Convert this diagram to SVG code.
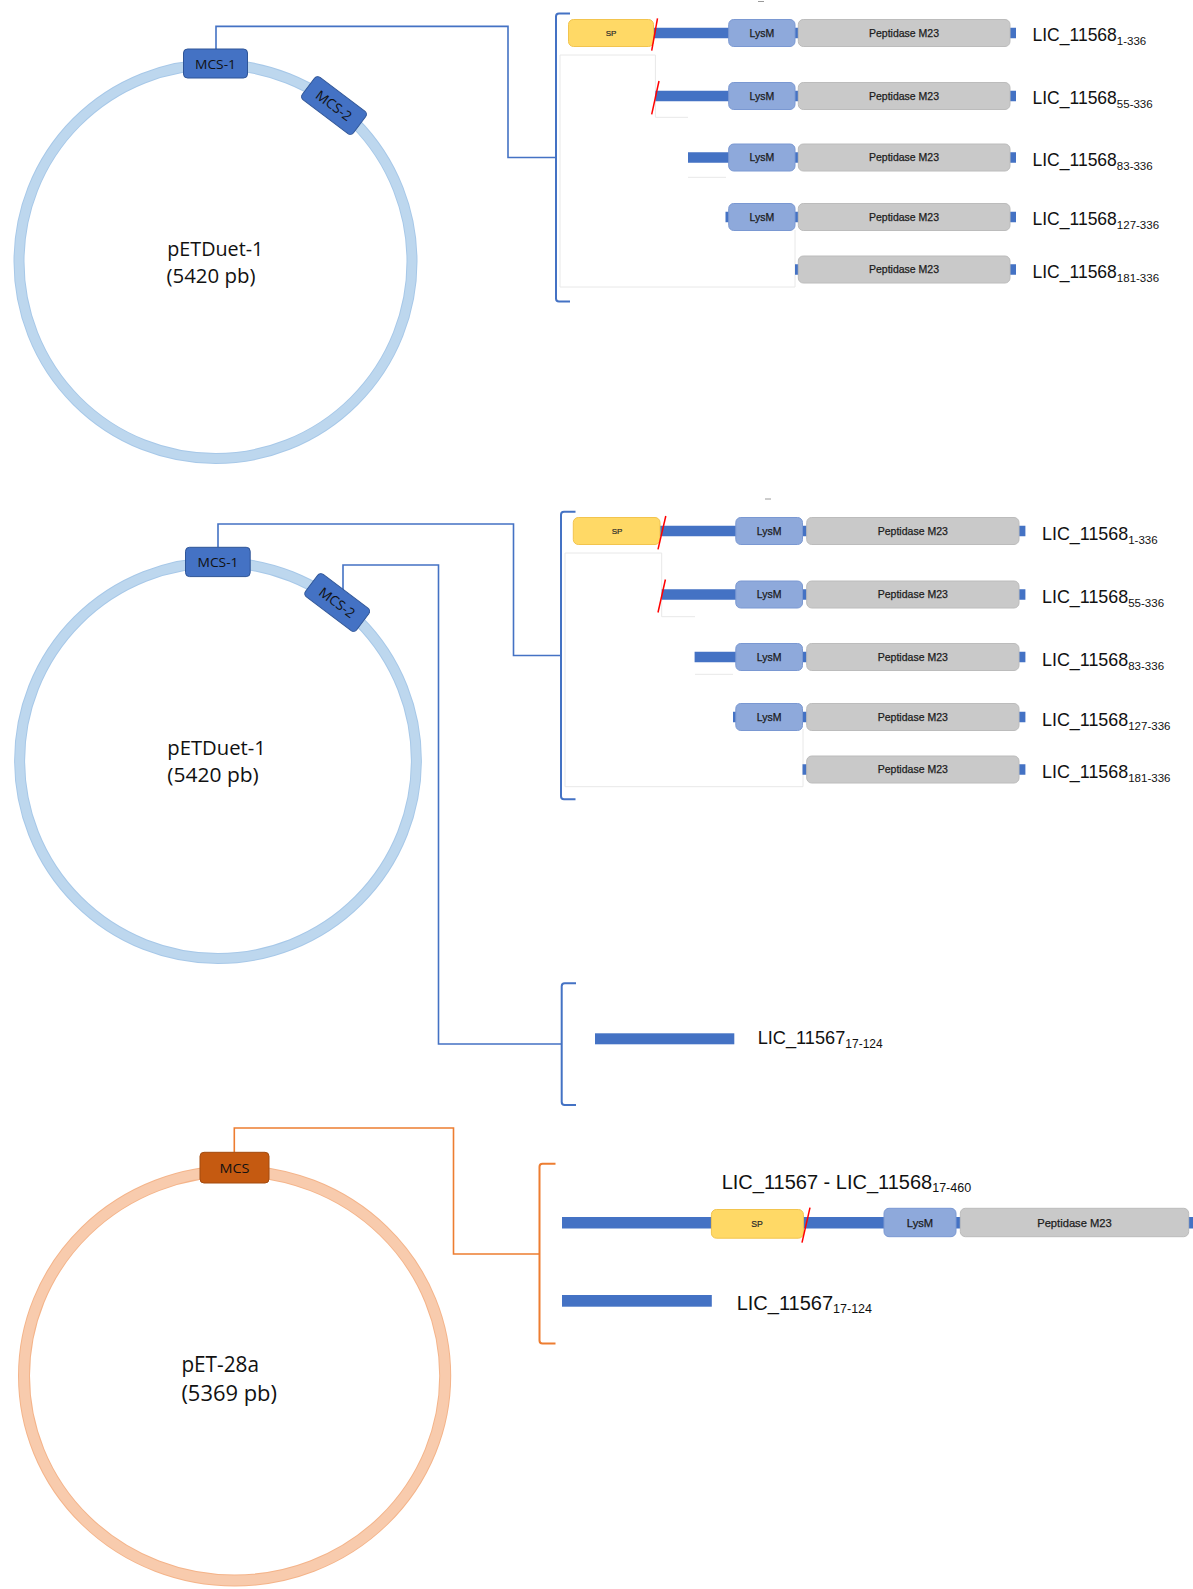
<svg xmlns="http://www.w3.org/2000/svg" width="1193" height="1589" viewBox="0 0 1193 1589">
  <style>
    .ring-b-edge { fill: none; stroke: #A7C8E8; stroke-width: 11; }
    .ring-b { fill: none; stroke: #BDD7EE; stroke-width: 9; }
    .ring-o-edge { fill: none; stroke: #F4B48A; stroke-width: 12; }
    .ring-o { fill: none; stroke: #F8CBAD; stroke-width: 10; }
    .conn { fill: none; stroke: #4472C4; stroke-width: 1.6; }
    .conn-o { fill: none; stroke: #ED7D31; stroke-width: 1.6; }
    .bracket { fill: none; stroke: #4472C4; stroke-width: 2; }
    .bracket-o { fill: none; stroke: #ED7D31; stroke-width: 2; }
    .bar { fill: #4472C4; }
    .sp { fill: #FFD966; stroke: #F2C44E; stroke-width: 1; }
    .lysm { fill: #8EA9DB; stroke: #7A98D2; stroke-width: 1; }
    .pep { fill: #C9C9C9; stroke: #BCBCBC; stroke-width: 1; }
    .cut { stroke: #FF0000; stroke-width: 1.5; }
    .faint { fill: none; stroke: #E8E8E8; stroke-width: 1; }
    .mcs { fill: #4472C4; stroke: #2F5597; stroke-width: 1; }
    .mcs-o { fill: #C55A11; stroke: #A34A0E; stroke-width: 1; }
    .mcs-t { font-family: "Open Sans", "Noto Sans", sans-serif; font-size: 13.5px; fill: #111; text-anchor: middle; }
    .pl { font-family: "Open Sans", "Noto Sans", sans-serif; font-size: 20px; fill: #111; }
    .pl-l { font-size: 21px; }
    .dom { font-family: "Liberation Sans", Arial, sans-serif; font-size: 10.5px; fill: #1c1c1c; stroke: #1c1c1c; stroke-width: 0.25; text-anchor: middle; }
    .dom-l { font-size: 11.2px; }
    .dom-sp { font-family: "Liberation Sans", Arial, sans-serif; font-size: 8px; fill: #2a2a2a; stroke: #2a2a2a; stroke-width: 0.2; text-anchor: middle; }
    .dom-sp-l { font-size: 8.7px; }
    .lab { font-family: "Liberation Sans", Arial, sans-serif; font-size: 17.5px; fill: #111; }
    .lab-2 { font-size: 17.9px; }
    .lab-m { font-size: 18.2px; }
    .lab-l { font-size: 20px; }
    .sub { font-size: 11.5px; }
    .sub-m { font-size: 12px; }
    .sub-l { font-size: 12.5px; }
  </style>

  <!-- plasmid rings -->
  <g id="plasmid-petduet-a">
    <ellipse class="ring-b-edge" cx="215.5" cy="261.5" rx="196.5" ry="197"/>
    <ellipse class="ring-b" cx="215.5" cy="261.5" rx="196.5" ry="197"/>
    <text class="pl" x="167.3" y="256" textLength="96" lengthAdjust="spacingAndGlyphs">pETDuet-1</text>
    <text class="pl" x="166.5" y="283" textLength="89" lengthAdjust="spacingAndGlyphs">(5420 pb)</text>
  </g>
  <g id="plasmid-petduet-b">
    <ellipse class="ring-b-edge" cx="218" cy="760.5" rx="198.4" ry="198"/>
    <ellipse class="ring-b" cx="218" cy="760.5" rx="198.4" ry="198"/>
    <text class="pl" x="167.3" y="755" textLength="98.5" lengthAdjust="spacingAndGlyphs">pETDuet-1</text>
    <text class="pl" x="167.3" y="782" textLength="91.5" lengthAdjust="spacingAndGlyphs">(5420 pb)</text>
  </g>
  <g id="plasmid-pet28a">
    <ellipse class="ring-o-edge" cx="234.6" cy="1375.8" rx="210.6" ry="204.7"/>
    <ellipse class="ring-o" cx="234.6" cy="1375.8" rx="210.6" ry="204.7"/>
    <text class="pl pl-l" x="181.4" y="1372" textLength="77.6" lengthAdjust="spacingAndGlyphs">pET-28a</text>
    <text class="pl pl-l" x="181.4" y="1401" textLength="95.6" lengthAdjust="spacingAndGlyphs">(5369 pb)</text>
  </g>

  <!-- connectors from cloning sites to construct brackets -->
  <g id="connectors">
    <path class="conn" d="M216,49 V26.4 H508 V157.5 H556"/>
    <path class="conn" d="M218,547 V524 H513.5 V655.5 H561"/>
    <path class="conn" d="M343,598 V565 H438.5 V1044 H561.7"/>
    <path class="conn-o" d="M234.3,1152 V1128 H453.5 V1254 H539.5"/>
  </g>

  <!-- brackets grouping the constructs -->
  <g id="brackets">
    <path class="bracket" d="M570,13.5 H559 Q556,13.5 556,16.5 V298.5 Q556,301.5 559,301.5 H570"/>
    <path class="bracket" d="M575.5,511.7 H564 Q561,511.7 561,514.7 V796.3 Q561,799.3 564,799.3 H575.5"/>
    <path class="bracket" d="M576,983.3 H564.7 Q561.7,983.3 561.7,986.3 V1102 Q561.7,1105 564.7,1105 H576"/>
    <path class="bracket-o" d="M555.5,1163.7 H542.5 Q539.5,1163.7 539.5,1166.7 V1340.5 Q539.5,1343.5 542.5,1343.5 H555.5"/>
  </g>

  <!-- cloning sites -->
  <g id="mcs1-a">
    <rect class="mcs" x="183.5" y="49" width="64" height="29" rx="4"/>
    <text class="mcs-t" x="215.5" y="68.5" textLength="41" lengthAdjust="spacingAndGlyphs">MCS-1</text>
  </g>
  <g id="mcs2-a" transform="translate(334,105.5) rotate(37)">
    <rect class="mcs" x="-32" y="-14" width="64" height="28" rx="4"/>
    <text class="mcs-t" x="0" y="5" textLength="41" lengthAdjust="spacingAndGlyphs">MCS-2</text>
  </g>
  <g id="mcs1-b">
    <rect class="mcs" x="185.5" y="547.3" width="64.7" height="29.3" rx="4"/>
    <text class="mcs-t" x="218" y="567" textLength="41" lengthAdjust="spacingAndGlyphs">MCS-1</text>
  </g>
  <g id="mcs2-b" transform="translate(337.2,602.5) rotate(37)">
    <rect class="mcs" x="-32" y="-14" width="64" height="28" rx="4"/>
    <text class="mcs-t" x="0" y="5" textLength="41" lengthAdjust="spacingAndGlyphs">MCS-2</text>
  </g>
  <g id="mcs-c">
    <rect class="mcs-o" x="200" y="1152.3" width="69" height="30.7" rx="4"/>
    <text class="mcs-t" x="234.5" y="1173" textLength="30" lengthAdjust="spacingAndGlyphs">MCS</text>
  </g>

  <!-- faint guide outlines -->
  <g id="guides">
    <path class="faint" d="M560,287 V55 H655.4 V117.3 H688 M688,177.3 H726 M560,287 H795 V230"/>
    <path class="faint" d="M565,786.7 V553 H661.7 V616.7 H695 M695,674.3 H733 M565,786.7 H803 V729"/>
    <path d="M758,1.5 H764" stroke="#9A9A9A" stroke-width="1"/>
    <path d="M765,499 H771" stroke="#9A9A9A" stroke-width="1"/>
  </g>

  <!-- pETDuet-1 MCS-1 constructs (upper) -->
  <g id="c1-1-336">
    <rect class="bar" x="653.5" y="27.75" width="362.5" height="10.5"/>
    <rect class="sp" x="568.5" y="19.5" width="85" height="27" rx="5"/>
    <text class="dom-sp" x="611" y="36">SP</text>
    <line class="cut" x1="657.5" y1="18.3" x2="651.7" y2="50.7"/>
    <rect class="lysm" x="728.7" y="19.5" width="66.3" height="27" rx="5"/>
    <text class="dom" x="761.8" y="36.8">LysM</text>
    <rect class="pep" x="798.3" y="19.5" width="211.7" height="27" rx="5"/>
    <text class="dom" x="904" y="36.8">Peptidase M23</text>
    <text class="lab" x="1032.5" y="41">LIC_11568<tspan class="sub" dy="4">1-336</tspan></text>
  </g>
  <g id="c1-55-336">
    <rect class="bar" x="655.4" y="90.75" width="360.6" height="10.5"/>
    <line class="cut" x1="659" y1="81" x2="651.7" y2="114.3"/>
    <rect class="lysm" x="728.7" y="82.5" width="66.3" height="27" rx="5"/>
    <text class="dom" x="761.8" y="99.8">LysM</text>
    <rect class="pep" x="798.3" y="82.5" width="211.7" height="27" rx="5"/>
    <text class="dom" x="904" y="99.8">Peptidase M23</text>
    <text class="lab" x="1032.5" y="104">LIC_11568<tspan class="sub" dy="4">55-336</tspan></text>
  </g>
  <g id="c1-83-336">
    <rect class="bar" x="688" y="152.25" width="328" height="10.5"/>
    <rect class="lysm" x="728.7" y="144" width="66.3" height="27" rx="5"/>
    <text class="dom" x="761.8" y="161.3">LysM</text>
    <rect class="pep" x="798.3" y="144" width="211.7" height="27" rx="5"/>
    <text class="dom" x="904" y="161.3">Peptidase M23</text>
    <text class="lab" x="1032.5" y="165.5">LIC_11568<tspan class="sub" dy="4">83-336</tspan></text>
  </g>
  <g id="c1-127-336">
    <rect class="bar" x="725.5" y="211.75" width="290.5" height="10.5"/>
    <rect class="lysm" x="728.7" y="203.5" width="66.3" height="27" rx="5"/>
    <text class="dom" x="761.8" y="220.8">LysM</text>
    <rect class="pep" x="798.3" y="203.5" width="211.7" height="27" rx="5"/>
    <text class="dom" x="904" y="220.8">Peptidase M23</text>
    <text class="lab" x="1032.5" y="225">LIC_11568<tspan class="sub" dy="4">127-336</tspan></text>
  </g>
  <g id="c1-181-336">
    <rect class="bar" x="795" y="264.25" width="221" height="10.5"/>
    <rect class="pep" x="798.3" y="256" width="211.7" height="27" rx="5"/>
    <text class="dom" x="904" y="273.3">Peptidase M23</text>
    <text class="lab" x="1032.5" y="277.5">LIC_11568<tspan class="sub" dy="4">181-336</tspan></text>
  </g>

  <!-- pETDuet-1 MCS-1 constructs (lower) -->
  <g id="c2-1-336">
    <rect class="bar" x="660" y="525.75" width="365.4" height="10.5"/>
    <rect class="sp" x="573.3" y="517.5" width="86.7" height="27" rx="5"/>
    <text class="dom-sp" x="617" y="534">SP</text>
    <line class="cut" x1="665.8" y1="516" x2="658" y2="549.3"/>
    <rect class="lysm" x="735.8" y="517.5" width="66.7" height="27" rx="5"/>
    <text class="dom" x="769.2" y="534.8">LysM</text>
    <rect class="pep" x="806.7" y="517.5" width="212.3" height="27" rx="5"/>
    <text class="dom" x="912.8" y="534.8">Peptidase M23</text>
    <text class="lab lab-2" x="1042" y="539.5">LIC_11568<tspan class="sub" dy="4">1-336</tspan></text>
  </g>
  <g id="c2-55-336">
    <rect class="bar" x="661.7" y="589.25" width="363.7" height="10.5"/>
    <line class="cut" x1="665.4" y1="579.5" x2="658" y2="612.5"/>
    <rect class="lysm" x="735.8" y="581" width="66.7" height="27" rx="5"/>
    <text class="dom" x="769.2" y="598.3">LysM</text>
    <rect class="pep" x="806.7" y="581" width="212.3" height="27" rx="5"/>
    <text class="dom" x="912.8" y="598.3">Peptidase M23</text>
    <text class="lab lab-2" x="1042" y="603">LIC_11568<tspan class="sub" dy="4">55-336</tspan></text>
  </g>
  <g id="c2-83-336">
    <rect class="bar" x="694.6" y="651.75" width="330.8" height="10.5"/>
    <rect class="lysm" x="735.8" y="643.5" width="66.7" height="27" rx="5"/>
    <text class="dom" x="769.2" y="660.8">LysM</text>
    <rect class="pep" x="806.7" y="643.5" width="212.3" height="27" rx="5"/>
    <text class="dom" x="912.8" y="660.8">Peptidase M23</text>
    <text class="lab lab-2" x="1042" y="665.5">LIC_11568<tspan class="sub" dy="4">83-336</tspan></text>
  </g>
  <g id="c2-127-336">
    <rect class="bar" x="733" y="711.75" width="292.4" height="10.5"/>
    <rect class="lysm" x="735.8" y="703.5" width="66.7" height="27" rx="5"/>
    <text class="dom" x="769.2" y="720.8">LysM</text>
    <rect class="pep" x="806.7" y="703.5" width="212.3" height="27" rx="5"/>
    <text class="dom" x="912.8" y="720.8">Peptidase M23</text>
    <text class="lab lab-2" x="1042" y="725.5">LIC_11568<tspan class="sub" dy="4">127-336</tspan></text>
  </g>
  <g id="c2-181-336">
    <rect class="bar" x="802.5" y="764.25" width="222.9" height="10.5"/>
    <rect class="pep" x="806.7" y="756" width="212.3" height="27" rx="5"/>
    <text class="dom" x="912.8" y="773.3">Peptidase M23</text>
    <text class="lab lab-2" x="1042" y="778">LIC_11568<tspan class="sub" dy="4">181-336</tspan></text>
  </g>

  <!-- pETDuet-1 MCS-2 construct -->
  <g id="c2-11567">
    <rect class="bar" x="595" y="1033.3" width="139.3" height="11"/>
    <text class="lab lab-m" x="757.7" y="1044">LIC_11567<tspan class="sub-m" dy="4">17-124</tspan></text>
  </g>

  <!-- pET-28a constructs -->
  <g id="c3-fusion">
    <rect class="bar" x="562" y="1217" width="631" height="11.5"/>
    <rect class="sp" x="711.4" y="1209.5" width="92" height="28.7" rx="5"/>
    <text class="dom-sp dom-sp-l" x="757" y="1227">SP</text>
    <line class="cut" x1="810" y1="1207.7" x2="802" y2="1242.7"/>
    <rect class="lysm" x="884" y="1208.3" width="72" height="28.4" rx="5"/>
    <text class="dom dom-l" x="920" y="1226.5">LysM</text>
    <rect class="pep" x="960.3" y="1208.3" width="228.4" height="28.4" rx="5"/>
    <text class="dom dom-l" x="1074.5" y="1226.5">Peptidase M23</text>
    <text class="lab lab-l" x="721.7" y="1188.5">LIC_11567 - LIC_11568<tspan class="sub-l" dy="3.5">17-460</tspan></text>
  </g>
  <g id="c3-11567">
    <rect class="bar" x="562" y="1295" width="149.8" height="11.7"/>
    <text class="lab lab-l" x="736.7" y="1309.5">LIC_11567<tspan class="sub-l" dy="3.5">17-124</tspan></text>
  </g>
</svg>
